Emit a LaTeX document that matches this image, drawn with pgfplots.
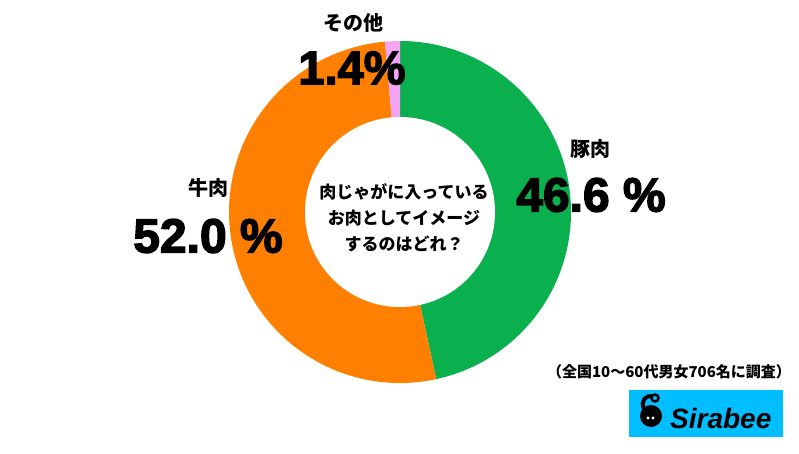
\documentclass[border=0pt]{standalone}
\usepackage{pgfplots}
\pgfplotsset{compat=1.18}
\usepackage{pgfplotstable}
\usepackage{fontspec}
\setmainfont{Noto Sans CJK JP}
\newfontfamily\numfont{Liberation Sans}[BoldFeatures={FakeBold=3}]
\newfontfamily\logofont{Liberation Sans}
\definecolor{pork}{RGB}{10,176,78}
\definecolor{beef}{RGB}{255,128,0}
\definecolor{other}{RGB}{245,163,245}
\definecolor{logoblue}{RGB}{0,190,255}
\pgfplotstableread{
label value
pork 46.6
beef 52.0
other 1.4
}\piedata
\begin{document}
\begin{tikzpicture}
\pgfplotstablegetelem{0}{value}\of\piedata \let\va\pgfplotsretval
\pgfplotstablegetelem{1}{value}\of\piedata \let\vb\pgfplotsretval
\pgfplotstablegetelem{2}{value}\of\piedata \let\vc\pgfplotsretval
\pgfmathsetmacro\aA{90-3.6*\va}
\pgfmathsetmacro\aB{\aA-3.6*\vb}
\pgfmathsetmacro\aC{\aB-3.6*\vc}
\begin{axis}[
  hide axis, scale only axis,
  width=799pt, height=453pt,
  xmin=0, xmax=799, ymin=0, ymax=453,
  clip=false]
\path (rel axis cs:0,0) rectangle (rel axis cs:1,1);
\fill[pork] (axis cs:400,241) -- ++(90:171pt) arc[start angle=90, end angle=\aA, radius=171pt] -- cycle;
\fill[beef] (axis cs:400,241) -- ++(\aA:171pt) arc[start angle=\aA, end angle=\aB, radius=171pt] -- cycle;
\fill[other] (axis cs:400,241) -- ++(\aB:171pt) arc[start angle=\aB, end angle=\aC, radius=171pt] -- cycle;
\fill[white] (axis cs:400,241) circle[radius=95pt];
% labels
\node[font=\fontsize{20}{20}\selectfont\bfseries] at (axis cs:353,430) {その他};
\node[font=\fontsize{47}{47}\selectfont\numfont\bfseries] at (axis cs:352,385) {1.4\%};
\node[font=\fontsize{20}{20}\selectfont\bfseries] at (axis cs:208,265) {牛肉};
\node[font=\fontsize{48}{48}\selectfont\numfont\bfseries] at (axis cs:208,217) {52.0 \%};
\node[font=\fontsize{20}{20}\selectfont\bfseries] at (axis cs:590,304) {豚肉};
\node[font=\fontsize{48}{48}\selectfont\numfont\bfseries] at (axis cs:591,258) {46.6 \%};
\node[font=\fontsize{17}{26}\selectfont\bfseries, align=center] at (axis cs:404,235) {肉じゃがに入っている\\お肉としてイメージ\\するのはどれ？};
\node[font=\fontsize{15}{15}\selectfont\bfseries] at (axis cs:669,81) {（全国10～60代男女706名に調査）};
% logo
\fill[logoblue] (axis cs:629,16) rectangle (axis cs:783,63);
\fill[black] (axis cs:651,37) circle[radius=11pt];
\draw[black, line width=4pt] (axis cs:644,44) .. controls (axis cs:640,52) and (axis cs:646,58) .. (axis cs:652,57);
\draw[black, line width=2.5pt] (axis cs:655,55) circle[radius=3.5pt];
\fill[white] (axis cs:648,35) circle[radius=1.6pt];
\fill[white] (axis cs:653,35) circle[radius=1.6pt];
\node[font=\fontsize{28}{28}\selectfont\logofont\bfseries\itshape, anchor=west, inner sep=0pt] at (axis cs:670,35) {Sirabee};
\end{axis}
\end{tikzpicture}
\end{document}
